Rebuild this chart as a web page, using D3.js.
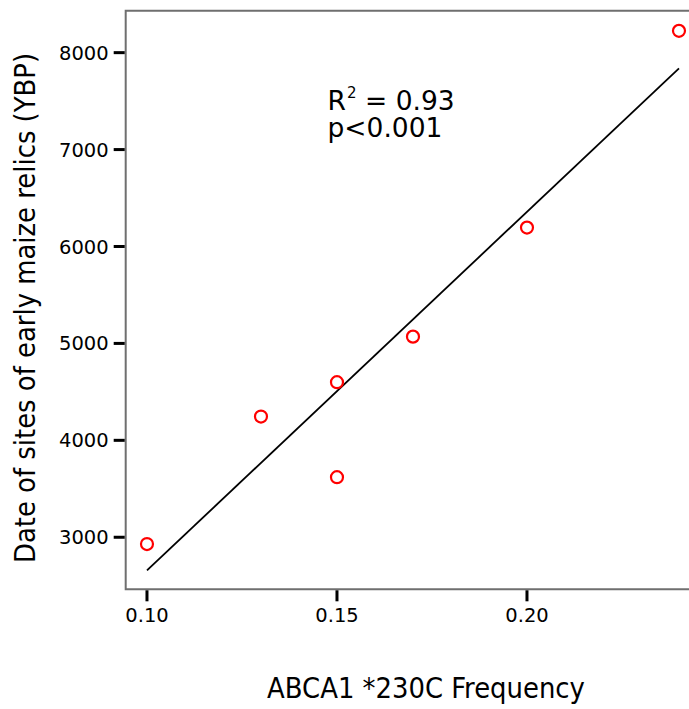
<!DOCTYPE html>
<html>
<head>
<meta charset="utf-8">
<script src="https://cdn.jsdelivr.net/npm/d3@7"></script>
<style>
  body { margin: 0; background: #fff; }
  svg { display: block; }
</style>
</head>
<body>
<svg id="chart" width="689" height="709"></svg>
<script>
// ABCA1 *230C frequency vs. date of early maize sites
const freq = [0.10, 0.13, 0.15, 0.15, 0.17, 0.20, 0.24];
const ybp = [2930, 4245, 4600, 3620, 5070, 6195, 8225];
const xTicks = [0.10, 0.15, 0.20];
const yTicks = [3000, 4000, 5000, 6000, 7000, 8000];
const statLines = ['= 0.93', 'p<0.001'];

const points = freq.map((f, i) => ({ x: f, y: ybp[i] }));

const svg = d3.select('#chart');
const plotLeft = 125.7, plotTop = 10.7, plotRight = 700, plotBottom = 589.3;
const tickFont = '"DejaVu Sans", Verdana, sans-serif';
const tickLen = 11;

const x = d3.scaleLinear()
  .domain([0.0944, 0.0944 + (plotRight - plotLeft) / 3800])
  .range([plotLeft, plotRight]);
const y = d3.scaleLinear()
  .domain([2463, 2463 + (plotBottom - plotTop) / 0.09692])
  .range([plotBottom, plotTop]);

// least squares fit
const mx = d3.mean(freq), my = d3.mean(ybp);
const slope = d3.sum(points, d => (d.x - mx) * (d.y - my)) /
  d3.sum(points, d => (d.x - mx) * (d.x - mx));
const fit = v => my + slope * (v - mx);
const xExt = d3.extent(freq);

// frame
svg.append('path')
  .attr('class', 'frame')
  .attr('d', `M${plotRight},${plotTop}H${plotLeft}V${plotBottom}H${plotRight}`)
  .attr('stroke', '#6f6f6f').attr('stroke-width', 2).attr('fill', 'none');

// x ticks
const xt = svg.append('g').attr('class', 'x-ticks')
  .selectAll('g').data(xTicks).enter().append('g')
  .attr('transform', d => `translate(${x(d)},${plotBottom})`);
xt.append('rect')
  .attr('x', -1.5).attr('y', 1).attr('width', 3).attr('height', tickLen)
  .attr('fill', '#000');
xt.append('text')
  .attr('y', 33)
  .attr('text-anchor', 'middle')
  .attr('font-family', tickFont).attr('font-size', 19.5)
  .attr('fill', '#000')
  .text(d3.format('.2f'));

// y ticks
const yt = svg.append('g').attr('class', 'y-ticks')
  .selectAll('g').data(yTicks).enter().append('g')
  .attr('transform', d => `translate(${plotLeft},${y(d)})`);
yt.append('rect')
  .attr('x', -1 - tickLen).attr('y', -1.5).attr('width', tickLen).attr('height', 3)
  .attr('fill', '#000');
yt.append('text')
  .attr('x', -17)
  .attr('dy', '0.36em')
  .attr('text-anchor', 'end')
  .attr('font-family', tickFont).attr('font-size', 19.5)
  .attr('fill', '#000')
  .text(d3.format('d'));

// regression line
svg.append('line')
  .attr('x1', x(xExt[0])).attr('y1', y(fit(xExt[0])))
  .attr('x2', x(xExt[1])).attr('y2', y(fit(xExt[1])))
  .attr('stroke', '#000').attr('stroke-width', 1.8);

// points
svg.append('g').selectAll('circle')
  .data(points)
  .enter().append('circle')
  .attr('cx', d => x(d.x))
  .attr('cy', d => y(d.y))
  .attr('r', 6)
  .attr('fill', 'none')
  .attr('stroke', '#ff0000')
  .attr('stroke-width', 2.2);

// stats annotation
const stat = svg.append('text')
  .attr('x', 327.5).attr('y', 110)
  .attr('font-family', tickFont)
  .attr('font-size', 26.5)
  .attr('fill', '#000');
stat.append('tspan').text('R');
stat.append('tspan').text('2')
  .attr('dy', -12).attr('dx', 1)
  .attr('font-size', 15);
stat.append('tspan').text(statLines[0])
  .attr('x', 365)
  .attr('dy', 12);
svg.append('text')
  .attr('x', 327.5).attr('y', 137)
  .attr('font-family', tickFont)
  .attr('font-size', 26.5)
  .attr('fill', '#000')
  .text(statLines[1]);

// axis titles
const titleFont = '"DejaVu Sans Condensed", "DejaVu Sans", sans-serif';
svg.append('text')
  .attr('x', 426).attr('y', 698)
  .attr('text-anchor', 'middle')
  .attr('font-family', titleFont)
  .attr('font-stretch', 'condensed')
  .attr('font-size', 28.8)
  .text('ABCA1 *230C Frequency');
svg.append('text')
  .attr('transform', 'translate(35,308) rotate(-90)')
  .attr('text-anchor', 'middle')
  .attr('font-family', titleFont)
  .attr('font-stretch', 'condensed')
  .attr('font-size', 28.8)
  .text('Date of sites of early maize relics (YBP)');
</script>
</body>
</html>
